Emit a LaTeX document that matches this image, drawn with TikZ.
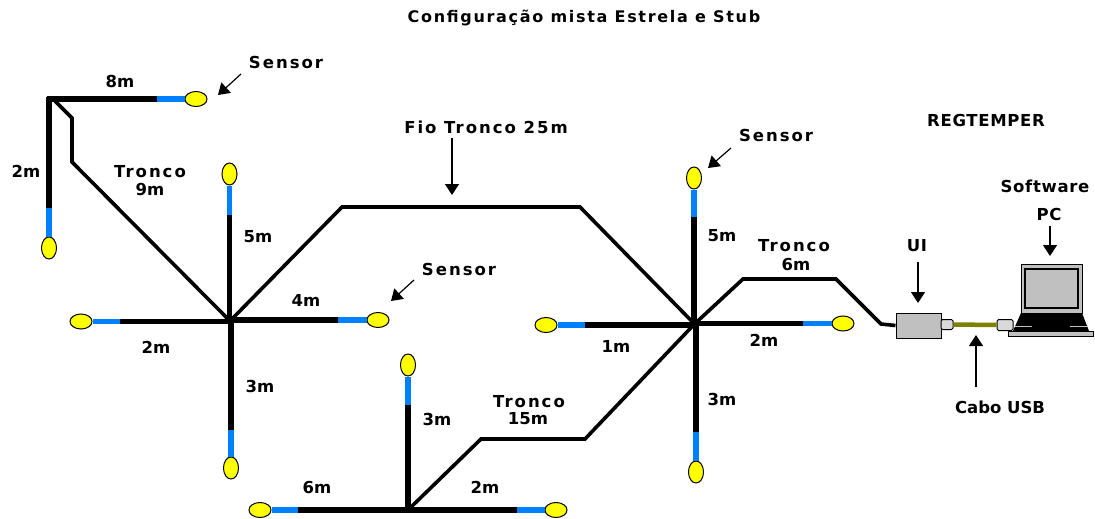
\documentclass[tikz,border=0pt]{standalone}
\usepackage{fontspec}
\setmainfont{DejaVu Sans}
\newfontfamily\wide[LetterSpace=12]{DejaVu Sans}
\newfontfamily\semi[LetterSpace=4]{DejaVu Sans}
\newfontfamily\ttl[LetterSpace=10.5]{DejaVu Sans}
\newfontfamily\plain{DejaVu Sans}
\usetikzlibrary{shapes.geometric,arrows.meta}
\definecolor{cblue}{RGB}{0,128,255}
\definecolor{cyell}{RGB}{255,255,0}
\definecolor{cgrey}{RGB}{192,192,192}
\definecolor{colive}{RGB}{128,128,0}
\tikzset{
  sensorh/.style={ellipse,draw=black,line width=1pt,fill=cyell,minimum width=22pt,minimum height=15pt,inner sep=0pt},
  sensorv/.style={ellipse,draw=black,line width=1pt,fill=cyell,minimum width=15pt,minimum height=22pt,inner sep=0pt},
  leg/.style={line width=5.6pt,black},
  tip/.style={line width=5.6pt,cblue},
  trunk/.style={line width=3.6pt,black,line join=miter},
  arr/.style={line width=1.2pt,-{Triangle[length=11pt,width=14pt]}},
  lab/.style={inner sep=0pt,font=\plain\fontsize{16.5}{16.5}\selectfont\bfseries},
  wlab/.style={inner sep=0pt,font=\wide\fontsize{16.5}{16.5}\selectfont\bfseries},
  slab/.style={inner sep=0pt,font=\semi\fontsize{16.5}{16.5}\selectfont\bfseries},
  tlab/.style={inner sep=0pt,font=\ttl\fontsize{16}{16}\selectfont\bfseries},
  rlab/.style={inner sep=0pt,font=\semi\fontsize{16.5}{16.5}\selectfont\bfseries},
  box/.style={draw=black,line width=1pt,fill=cgrey}
}
\begin{document}
\begin{tikzpicture}[x=1pt,y=-1pt]
\useasboundingbox (0,0) rectangle (1095,519);
% hubs
\coordinate (D) at (49,99);
\coordinate (A) at (230,321);
\coordinate (B) at (694.5,324);
\coordinate (C) at (408,510);
% trunks
\coordinate (d0) at (55,101);
\coordinate (d1) at (72,118);
\coordinate (d2) at (72,162);
\coordinate (a1) at (342,207);
\coordinate (a2) at (580,207);
\coordinate (b1) at (743,279);
\coordinate (b2) at (836,279);
\coordinate (b3) at (881,324);
\coordinate (c1) at (481,439);
\coordinate (c2) at (585,439);
\draw[trunk] (d0) -- (d1) -- (d2) -- (A);
\draw[trunk] (A) -- (a1) -- (a2) -- (B);
\draw[trunk] (C) -- (c1) -- (c2) -- (B);
\node[box,minimum width=45pt,minimum height=25pt,inner sep=0pt] (ui) at (918.5,325.5) {};
\draw[trunk] (B) -- (b1) -- (b2) -- (b3) -- (ui.west);
% sensors
\node[sensorh] (s1) at (196,99) {};
\node[sensorv] (s2) at (49,248) {};
\node[sensorv] (s3) at (229.5,174) {};
\node[sensorh] (s4) at (378,320) {};
\node[sensorh] (s5) at (81,321.5) {};
\node[sensorv] (s6) at (231,468) {};
\node[sensorv] (s7) at (694,178) {};
\node[sensorh] (s8) at (843,323.5) {};
\node[sensorh] (s9) at (546,325) {};
\node[sensorv] (s10) at (696,472) {};
\node[sensorv] (s11) at (408,365) {};
\node[sensorh] (s12) at (260,510) {};
\node[sensorh] (s13) at (556,510) {};
% joints between the black and the blue part of each leg
\coordinate (j1) at (157,99);
\coordinate (j2) at (49,208);
\coordinate (j3) at (229.5,215);
\coordinate (j4) at (338,320);
\coordinate (j5) at (120,321.5);
\coordinate (j6) at (231,430);
\coordinate (j7) at (694,217);
\coordinate (j8) at (803,323.5);
\coordinate (j9) at (585,325);
\coordinate (j10) at (696,432);
\coordinate (j11) at (408,405);
\coordinate (j12) at (298,510);
\coordinate (j13) at (517,510);
\draw[tip] (j1) -- (s1.west);
\draw[tip] (j2) -- (s2.north);
\draw[tip] (j3) -- (s3.south);
\draw[tip] (j4) -- (s4.west);
\draw[tip] (j5) -- (s5.east);
\draw[tip] (j6) -- (s6.north);
\draw[tip] (j7) -- (s7.south);
\draw[tip] (j8) -- (s8.west);
\draw[tip] (j9) -- (s9.east);
\draw[tip] (j10) -- (s10.north);
\draw[tip] (j11) -- (s11.south);
\draw[tip] (j12) -- (s12.east);
\draw[tip] (j13) -- (s13.west);
\draw[leg] (46.5,99) -- (j1);
\draw[leg] (49,96.5) -- (j2);
\draw[leg] (j3 |- A) -- (j3);
\draw[leg] (A |- j4) -- (j4);
\draw[leg] (A |- j5) -- (j5);
\draw[leg] (j6 |- A) -- (j6);
\draw[leg] (j7 |- B) -- (j7);
\draw[leg] (B |- j8) -- (j8);
\draw[leg] (B |- j9) -- (j9);
\draw[leg] (j10 |- B) -- (j10);
\draw[leg] (C) -- (j11);
\draw[leg] (C) -- (j12);
\draw[leg] (C) -- (j13);
% USB and laptop
\node[box,rounded corners=1.5pt,minimum width=12pt,minimum height=10pt,inner sep=0pt,fill=cgrey!60] (p1) at (947,324.5) {};
\node[box,rounded corners=1.5pt,minimum width=16pt,minimum height=11pt,inner sep=0pt,fill=cgrey!60] (p2) at (1005,325) {};
\draw[line width=4.5pt,colive] (p1.east) -- (p2.west);
\node[box,minimum width=85pt,minimum height=5pt,inner sep=0pt] (lbase) at (1050.5,333.5) {};
\fill[black] (1021,313) -- (1082,313) -- (1089,331) -- (1013,331) -- cycle;
\draw[cgrey,line width=0.8pt] (1015,326) -- (1032,326);
\draw[cgrey,line width=0.8pt] (1070,326) -- (1088,326);
\node[box,minimum width=61pt,minimum height=49pt,inner sep=0pt] (lscr) at (1051.5,288.5) {};
\node[box,line width=1.2pt,minimum width=53pt,minimum height=39pt,inner sep=0pt] (lin) at (1051.5,288.5) {};
% texts
\node[tlab] (title) at (584,18) {Configuração mista Estrela e Stub};
\node[wlab] (t1) at (286,62) {Sensor};
\node[wlab] (t2) at (776,135) {Sensor};
\node[wlab] (t3) at (459,269) {Sensor};
\node[wlab] (t4) at (486,127) {Fio Tronco 25m};
\node[rlab] (t5) at (986,120) {REGTEMPER};
\node[slab] (t6) at (1045,186) {Software};
\node[slab] (t7) at (1049,214) {PC};
\node[slab] (t8) at (917,246) {UI};
\node[lab] (t9) at (1000,407) {Cabo USB};
\node[lab] at (120,81) {8m};
\node[lab] at (26,171) {2m};
\node[wlab] at (150,172) {Tronco};
\node[lab] at (150,190) {9m};
\node[lab] at (258,237) {5m};
\node[lab] at (306,300) {4m};
\node[lab] at (156,347) {2m};
\node[lab] at (260,386) {3m};
\node[lab] at (722,236) {5m};
\node[wlab] at (794,246) {Tronco};
\node[lab] at (796,264) {6m};
\node[lab] at (764,340) {2m};
\node[lab] at (616,346) {1m};
\node[lab] at (722,399) {3m};
\node[lab] at (437,419) {3m};
\node[wlab] at (529,402) {Tronco};
\node[lab] at (528,419) {15m};
\node[lab] at (317,487) {6m};
\node[lab] at (485,487) {2m};
% pointers
\coordinate (g1a) at (241,74); \coordinate (g1) at (218,95);
\coordinate (g2a) at (731,148); \coordinate (g2) at (708,168);
\coordinate (g3a) at (414,280); \coordinate (g3) at (391,301);
\coordinate (g4a) at (452,138); \coordinate (g4) at (452,195);
\coordinate (g5a) at (918,262); \coordinate (g5) at (918,303);
\coordinate (g6a) at (1050,226); \coordinate (g6) at (1050,256);
\coordinate (g7a) at (976,387); \coordinate (g7) at (976,335);
\draw[arr] (g1a) -- (g1);
\draw[arr] (g2a) -- (g2);
\draw[arr] (g3a) -- (g3);
\draw[arr] (g4a) -- (g4);
\draw[arr] (g5a) -- (g5);
\draw[arr] (g6a) -- (g6);
\draw[arr] (g7a) -- (g7);
\end{tikzpicture}
\end{document}
